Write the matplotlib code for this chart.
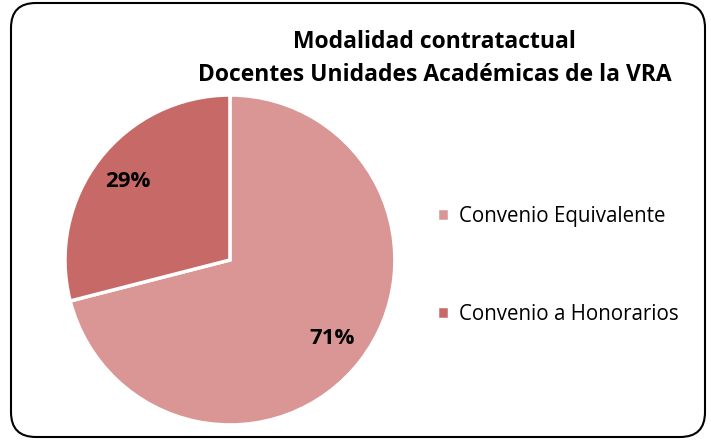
import numpy as np
import matplotlib.pyplot as plt
from matplotlib.patches import FancyBboxPatch

labels = ['Convenio Equivalente', 'Convenio a Honorarios']
values = [71, 29]
colors = ['#D99694', '#C76A67']

plt.rcParams['font.family'] = ['Open Sans', 'DejaVu Sans']

fig = plt.figure(figsize=(7.11, 4.42), dpi=100)

# rounded frame around the chart
frame = FancyBboxPatch((11 / 711, 5 / 442), 694 / 711, 434 / 442,
                       boxstyle='round,pad=0,rounding_size=0.035',
                       transform=fig.transFigure, fill=False,
                       edgecolor='black', linewidth=1.5, mutation_aspect=711 / 442)
fig.patches.append(frame)

fig.text(0.611, 0.905, 'Modalidad contratactual', ha='center', va='center',
         fontsize=16.5, fontweight='bold')
fig.text(0.611, 0.830, 'Docentes Unidades Académicas de la VRA', ha='center', va='center',
         fontsize=16.5, fontweight='bold')

ax = fig.add_axes([0.0914, 0.0385, 0.464, 0.7466])
wedges, texts = ax.pie(values, colors=colors, startangle=90, counterclock=False,
                       wedgeprops=dict(edgecolor='white', linewidth=2.5))
for w, v in zip(wedges, values):
    ang = np.deg2rad((w.theta1 + w.theta2) / 2)
    ax.text(0.78 * np.cos(ang), 0.78 * np.sin(ang), f'{v}%', ha='center', va='center',
            fontsize=16, fontweight='bold')
ax.set_xlim(-1, 1)
ax.set_ylim(-1, 1)
ax.set_aspect('equal')

fig.legend(wedges, labels, loc='center left', bbox_to_anchor=(0.588, 0.400),
           frameon=False, fontsize=14.8, handlelength=0.62, handleheight=0.62,
           handletextpad=0.45, labelspacing=3.75)

fig.savefig('out.png', dpi=100)
